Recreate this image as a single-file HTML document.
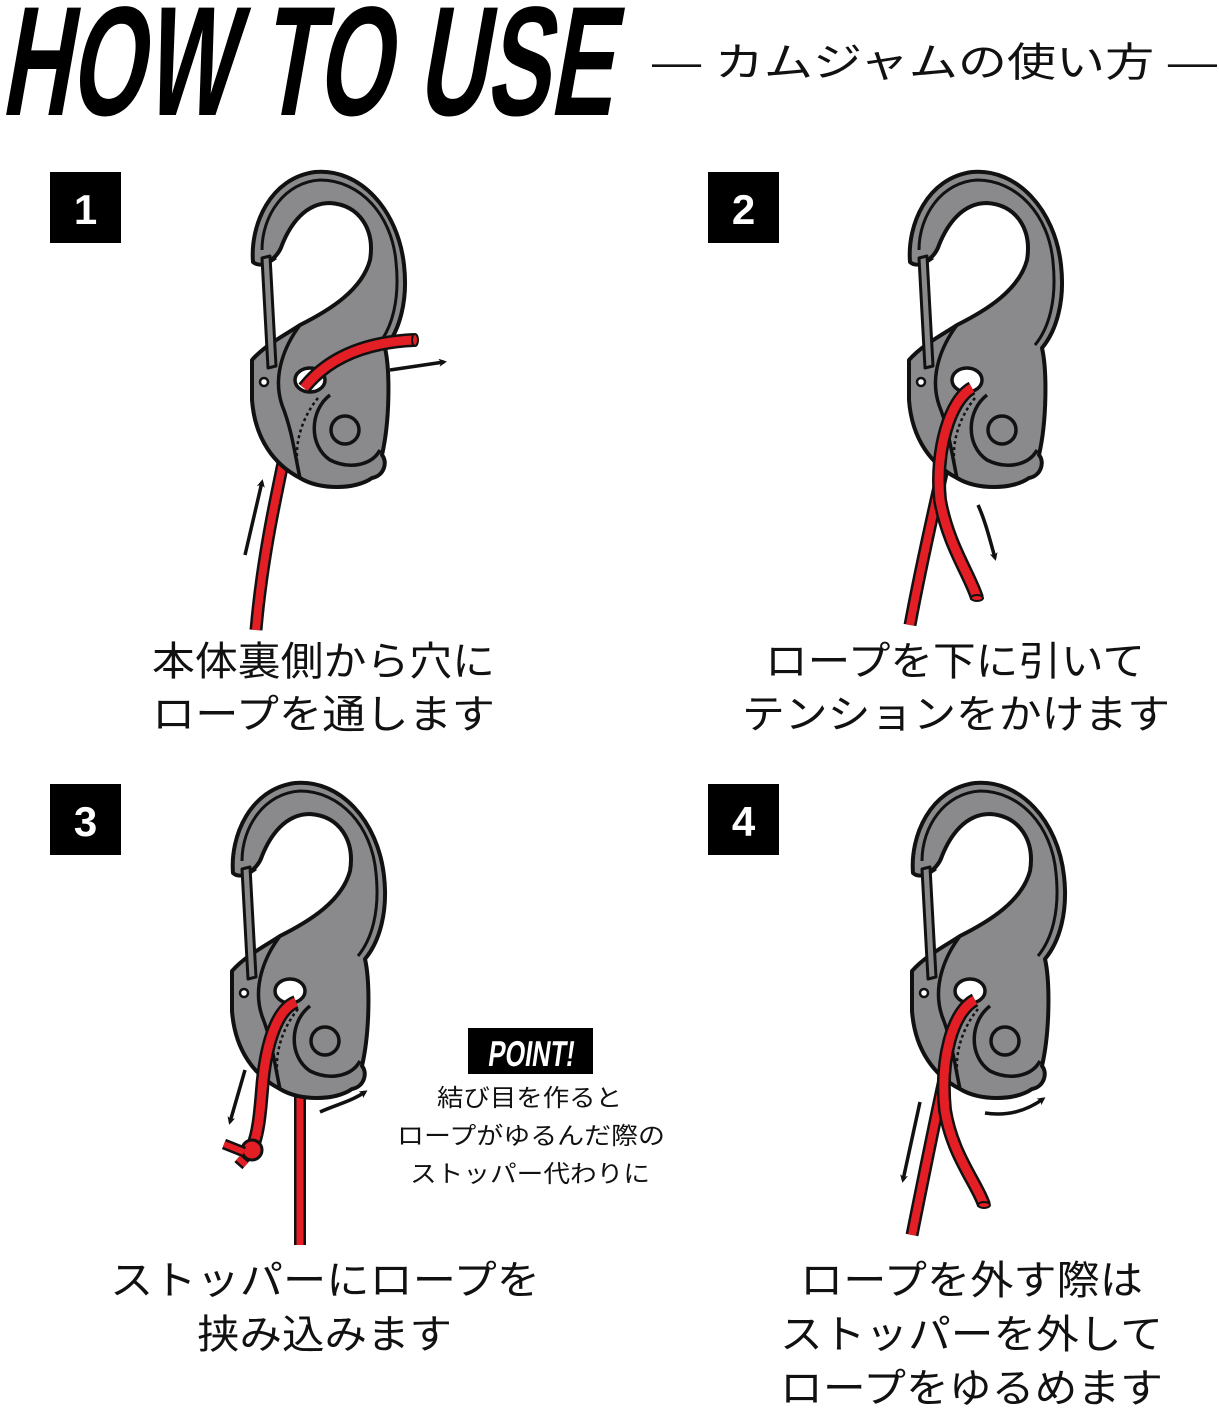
<!DOCTYPE html>
<html><head><meta charset="utf-8"><style>
html,body{margin:0;padding:0;background:#fff;}
svg{display:block;}
.jp{font-family:"Liberation Sans","Noto Sans CJK JP",sans-serif;fill:#111;}
</style></head><body>
<svg width="1219" height="1410" viewBox="0 0 1219 1410" xmlns="http://www.w3.org/2000/svg">
<defs>
<marker id="ah" markerWidth="8" markerHeight="8" refX="5" refY="4" orient="auto" markerUnits="userSpaceOnUse">
<path d="M0,0 L8,4 L0,8 L2,4 Z" fill="#111"/>
</marker>
<g id="cb">
  <path fill="#8a8a8c" stroke="#111" stroke-width="4" stroke-linejoin="round" fill-rule="evenodd"
   d="M253,262 C250,225 270,178 315,172 C360,168 398,210 404,265 C408,300 400,330 385,348 C390,370 390,420 382,455 C388,462 384,476 372,478 C355,490 320,490 300,478 C275,465 255,440 252,400 L252,360 C265,345 285,335 300,325 C330,310 362,290 370,260 C375,230 360,205 330,203 C305,203 290,225 282,245 C278,258 262,270 253,262 Z"/>
  <path fill="none" stroke="#111" stroke-width="3" d="M262,250 C262,215 285,182 320,180 C360,180 392,215 396,262 C400,300 392,328 378,345"/>
  <path fill="none" stroke="#111" stroke-width="3.5" d="M300,325 C285,345 272,375 282,405 C292,430 295,455 300,478"/>
  <path fill="none" stroke="#111" stroke-width="3.5" d="M330,395 C310,410 308,445 330,460 C350,470 372,465 380,450"/>
  <path fill="none" stroke="#111" stroke-width="2.5" stroke-dasharray="3 3" d="M318,398 C300,420 292,450 300,476"/>
  <circle cx="345" cy="430" r="14" fill="#8a8a8c" stroke="#111" stroke-width="3.5"/>
  <ellipse cx="310" cy="380" rx="15" ry="12" fill="#fff" stroke="#111" stroke-width="3.5"/>
  <circle cx="264" cy="382" r="4" fill="#fff" stroke="#111" stroke-width="2.5"/>
  <path d="M262,258 L270,256 L276,366 L268,368 Z" fill="#8a8a8c" stroke="#111" stroke-width="3" stroke-linejoin="round"/>
  <path d="M270,262 L276,258" stroke="#111" stroke-width="3"/>
</g>
</defs>

<text x="8" y="115" transform="skewX(-10) translate(12,0)" font-family="'Liberation Sans Narrow','Liberation Sans',sans-serif" font-weight="bold" font-size="156" textLength="612" lengthAdjust="spacingAndGlyphs" fill="#000">HOW TO USE</text>
<text class="jp" x="652" y="76" font-size="40" textLength="565" lengthAdjust="spacingAndGlyphs">― カムジャムの使い方 ―</text>

<rect x="50" y="172" width="71" height="71" fill="#000"/><text x="85.5" y="224" text-anchor="middle" font-family="Liberation Sans,sans-serif" font-weight="bold" font-size="42" fill="#fff">1</text>
<rect x="708" y="172" width="71" height="71" fill="#000"/><text x="743.5" y="224" text-anchor="middle" font-family="Liberation Sans,sans-serif" font-weight="bold" font-size="42" fill="#fff">2</text>
<rect x="50" y="784" width="71" height="71" fill="#000"/><text x="85.5" y="836" text-anchor="middle" font-family="Liberation Sans,sans-serif" font-weight="bold" font-size="42" fill="#fff">3</text>
<rect x="708" y="784" width="71" height="71" fill="#000"/><text x="743.5" y="836" text-anchor="middle" font-family="Liberation Sans,sans-serif" font-weight="bold" font-size="42" fill="#fff">4</text>

<!-- Panel 1 -->
<path d="M256,630 C262,560 275,500 290,430" stroke="#111" stroke-width="13" fill="none"/>
<path d="M256,630 C262,560 275,500 290,430" stroke="#e31e24" stroke-width="8" fill="none"/>
<use href="#cb"/>
<path d="M304,388 C330,355 370,342 414,340" stroke="#111" stroke-width="14" fill="none"/>
<path d="M304,388 C330,355 370,342 414,340" stroke="#e31e24" stroke-width="9" fill="none"/>
<ellipse cx="415" cy="340" rx="3" ry="6" fill="#e31e24" stroke="#111" stroke-width="2"/>
<path d="M245,555 L262,482" stroke="#111" stroke-width="3.5" marker-end="url(#ah)"/>
<path d="M390,370 L444,362" stroke="#111" stroke-width="3.5" marker-end="url(#ah)"/>
<text class="jp" x="152" y="675" font-size="40" textLength="343" lengthAdjust="spacingAndGlyphs">本体裏側から穴に</text>
<text class="jp" x="152" y="728" font-size="40" textLength="343" lengthAdjust="spacingAndGlyphs">ロープを通します</text>

<!-- Panel 2 -->
<path d="M910,625 C922,560 935,505 945,460" stroke="#111" stroke-width="13" fill="none"/>
<path d="M910,625 C922,560 935,505 945,460" stroke="#e31e24" stroke-width="8" fill="none"/>
<use href="#cb" transform="translate(657,0)"/>
<path d="M972,388 C950,400 935,450 940,500 C948,545 970,575 977,598" stroke="#111" stroke-width="14" fill="none"/>
<path d="M972,388 C950,400 935,450 940,500 C948,545 970,575 977,598" stroke="#e31e24" stroke-width="9" fill="none"/>
<ellipse cx="977" cy="598" rx="6" ry="3" fill="#e31e24" stroke="#111" stroke-width="2"/>
<path d="M978,505 C985,520 990,540 995,558" stroke="#111" stroke-width="3.5" fill="none" marker-end="url(#ah)"/>
<text class="jp" x="765" y="675" font-size="40" textLength="380" lengthAdjust="spacingAndGlyphs">ロープを下に引いて</text>
<text class="jp" x="742" y="728" font-size="40" textLength="428" lengthAdjust="spacingAndGlyphs">テンションをかけます</text>

<!-- Panel 3 -->
<path d="M300,1245 L300,1090" stroke="#111" stroke-width="12" fill="none"/>
<path d="M300,1245 L300,1090" stroke="#e31e24" stroke-width="7" fill="none"/>
<use href="#cb" transform="translate(-20,611)"/>
<path d="M296,1002 C275,1010 265,1050 262,1090 C260,1115 258,1135 252,1148" stroke="#111" stroke-width="14" fill="none"/>
<path d="M296,1002 C275,1010 265,1050 262,1090 C260,1115 258,1135 252,1148" stroke="#e31e24" stroke-width="9" fill="none"/>
<circle cx="252" cy="1150" r="10" fill="#e31e24" stroke="#111" stroke-width="3"/>
<path d="M224,1144 L244,1152 M238,1158 L246,1165" stroke="#111" stroke-width="11"/>
<path d="M224,1144 L244,1152 M238,1158 L246,1165" stroke="#e31e24" stroke-width="6"/>
<path d="M245,1070 L230,1122" stroke="#111" stroke-width="3.5" marker-end="url(#ah)"/>
<path d="M320,1112 C335,1105 350,1102 365,1092" stroke="#111" stroke-width="3.5" fill="none" marker-end="url(#ah)"/>
<rect x="468" y="1028" width="125" height="46" fill="#000"/>
<text x="530" y="1066" text-anchor="middle" transform="skewX(-8) translate(150,0)" font-family="'Liberation Sans Narrow','Liberation Sans',sans-serif" font-weight="bold" font-size="36" textLength="86" lengthAdjust="spacingAndGlyphs" fill="#fff">POINT!</text>
<text class="jp" x="437" y="1106" font-size="24" textLength="185" lengthAdjust="spacingAndGlyphs">結び目を作ると</text>
<text class="jp" x="397" y="1144" font-size="24" textLength="268" lengthAdjust="spacingAndGlyphs">ロープがゆるんだ際の</text>
<text class="jp" x="410" y="1182" font-size="24" textLength="240" lengthAdjust="spacingAndGlyphs">ストッパー代わりに</text>
<text class="jp" x="110" y="1294" font-size="40" textLength="430" lengthAdjust="spacingAndGlyphs">ストッパーにロープを</text>
<text class="jp" x="197" y="1348" font-size="40" textLength="255" lengthAdjust="spacingAndGlyphs">挟み込みます</text>

<!-- Panel 4 -->
<path d="M912,1235 C925,1170 935,1120 945,1075" stroke="#111" stroke-width="13" fill="none"/>
<path d="M912,1235 C925,1170 935,1120 945,1075" stroke="#e31e24" stroke-width="8" fill="none"/>
<use href="#cb" transform="translate(660,611)"/>
<path d="M975,1000 C952,1012 940,1060 945,1110 C952,1155 978,1185 984,1205" stroke="#111" stroke-width="14" fill="none"/>
<path d="M975,1000 C952,1012 940,1060 945,1110 C952,1155 978,1185 984,1205" stroke="#e31e24" stroke-width="9" fill="none"/>
<ellipse cx="984" cy="1205" rx="6" ry="3" fill="#e31e24" stroke="#111" stroke-width="2"/>
<path d="M920,1102 L903,1180" stroke="#111" stroke-width="3.5" marker-end="url(#ah)"/>
<path d="M985,1113 C1005,1116 1025,1112 1043,1099" stroke="#111" stroke-width="3.5" fill="none" marker-end="url(#ah)"/>
<text class="jp" x="800" y="1294" font-size="40" textLength="343" lengthAdjust="spacingAndGlyphs">ロープを外す際は</text>
<text class="jp" x="780" y="1348" font-size="40" textLength="383" lengthAdjust="spacingAndGlyphs">ストッパーを外して</text>
<text class="jp" x="780" y="1402" font-size="40" textLength="383" lengthAdjust="spacingAndGlyphs">ロープをゆるめます</text>
</svg>
</body></html>
